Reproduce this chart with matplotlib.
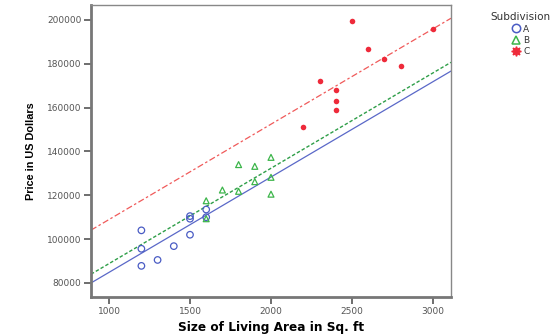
import matplotlib
matplotlib.use("Agg")
import matplotlib.pyplot as plt
import numpy as np
from matplotlib.lines import Line2D

# Data
a_size = [1200, 1200, 1200, 1300, 1400, 1500, 1500, 1500, 1600, 1600]
a_price = [104000, 95600, 87800, 90500, 96800, 102000, 110500, 109300, 113500, 110000]
b_size = [1600, 1600, 1700, 1800, 1800, 1900, 1900, 2000, 2000, 2000]
b_price = [117500, 109300, 122400, 134000, 121800, 133200, 126200, 137300, 128200, 120500]
c_size = [2500, 3000, 2600, 2700, 2800, 2300, 2400, 2400, 2400, 2200]
c_price = [199500, 195800, 186800, 182200, 179100, 172300, 168000, 163000, 158800, 151100]
# common-slope fit lines (slope, intercepts A, B, C)
fit_slope = 43.5
fit_intercepts = [41330, 45330, 65430]

x_ticks = [1000, 1500, 2000, 2500, 3000]
y_ticks = [80000, 100000, 120000, 140000, 160000, 180000, 200000]

blue = '#4a5cc4'
green = '#3cb54a'
red = '#ee2a3a'

fig = plt.figure(figsize=(5.58, 3.34), dpi=100)
ax = fig.add_axes([91/558, 1-297/334, (451-91)/558, (297-5)/334])

xlim = (889, 3111)
ax.set_xlim(*xlim)
ax.set_ylim(73600, 206800)

xs = np.array(xlim)
ax.plot(xs, fit_slope*xs + fit_intercepts[0], color='#5a68c8', lw=0.9, zorder=2)
ax.plot(xs, fit_slope*xs + fit_intercepts[1], color='#2e9e48', lw=1.0, ls=(0, (2.5, 1.5)), zorder=2)
ax.plot(xs, fit_slope*xs + fit_intercepts[2], color='#f05a5a', lw=0.9, ls=(0, (5, 2, 2, 2)), zorder=2)

ax.scatter(a_size, a_price, s=22, facecolors='none', edgecolors=blue, linewidths=0.9, zorder=3)
ax.scatter(b_size, b_price, s=18, marker='^', facecolors='none', edgecolors=green, linewidths=0.9, zorder=3)
ax.scatter(c_size, c_price, s=16, marker='o', color=red, linewidths=0, zorder=3)

ax.set_xticks(x_ticks)
ax.set_yticks(y_ticks)
ax.set_xticklabels([str(v) for v in x_ticks])
ax.set_yticklabels([str(v) for v in y_ticks])
ax.tick_params(axis='both', labelsize=6.5, labelcolor='#555555', color='#555555', length=5, width=1.2, direction='out', pad=2)

for s in ['top', 'right']:
    ax.spines[s].set_color('#888888')
    ax.spines[s].set_linewidth(1.0)
for s in ['left', 'bottom']:
    ax.spines[s].set_color('#777777')
    ax.spines[s].set_linewidth(2.0)

ax.set_xlabel('Size of Living Area in Sq. ft', fontsize=8.7, fontweight='bold', labelpad=4)
ax.set_ylabel('Price in US Dollars', fontsize=7.8, fontweight='bold', labelpad=8,
              family=['Liberation Sans', 'DejaVu Sans'])

handles = [
    Line2D([], [], ls='none', marker='o', markerfacecolor='none', markeredgecolor=blue, markersize=6, markeredgewidth=1.1),
    Line2D([], [], ls='none', marker='^', markerfacecolor='none', markeredgecolor=green, markersize=6, markeredgewidth=1.1),
    Line2D([], [], ls='none', marker=(8, 1, 0), color=red, markersize=7),
]
leg = fig.legend(handles, ['A', 'B', 'C'], title='Subdivision', loc='upper left',
                 bbox_to_anchor=(484/558, 1-6/334), frameon=False, fontsize=6.5,
                 title_fontsize=7.5, handlelength=1.0, handletextpad=0.3, labelspacing=0.25,
                 borderpad=0.2)
leg.get_title().set_color('#333333')
for t in leg.get_texts():
    t.set_color('#333333')

fig.savefig('out.png', dpi=100)
